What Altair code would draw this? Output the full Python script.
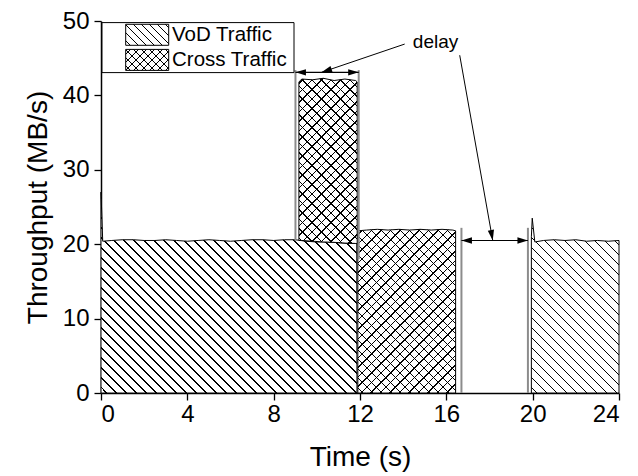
import math
import altair as alt
import pandas as pd

# ---------------- data ----------------
vod1_t = [0.0, 0.08, 0.5, 1.0, 1.5, 2.0, 2.5, 3.0, 3.5, 4.0, 4.5, 5.0, 5.5, 6.0,
          6.5, 7.0, 7.5, 8.0, 8.5, 9.0, 9.5, 10.0, 10.5, 11.0, 11.5, 11.85, 11.86]
vod1_v = [27.0, 20.4, 20.5, 20.6, 20.6, 20.5, 20.5, 20.6, 20.5, 20.4, 20.5, 20.6,
          20.5, 20.4, 20.5, 20.6, 20.6, 20.5, 20.6, 20.6, 20.4, 20.3, 20.3, 20.2,
          20.1, 20.1, 0.0]

vod2_t = [19.94, 19.98, 20.1, 20.5, 21.0, 21.5, 22.0, 22.5, 23.0, 23.5, 24.0]
vod2_v = [21.0, 23.5, 20.3, 20.5, 20.6, 20.5, 20.6, 20.4, 20.5, 20.4, 20.5]

cross1_t = [9.17, 9.3, 9.8, 10.3, 10.8, 11.3, 11.8, 11.87]
cross1_top = [41.8, 42.2, 42.1, 42.3, 42.0, 42.2, 42.0, 41.8]
cross1_base = [20.5, 20.5, 20.4, 20.3, 20.25, 20.15, 20.1, 20.1]

cross2_t = [11.9, 12.3, 12.8, 13.3, 13.8, 14.3, 14.8, 15.3, 15.8, 16.3, 16.43]
cross2_top = [21.8, 21.9, 22.0, 21.9, 22.0, 21.9, 22.0, 21.9, 22.0, 21.9, 21.8]
cross2_base = [0.0] * len(cross2_t)

# annotation: gray guide lines, delay arrows, leader lines
guide_t = [9.01, 11.94, 16.7, 19.78]
guide_top = [43.4, 43.4, 22.2, 22.2]
guide_bottom = [20.5, 18.0, 0.0, 0.0]

delay_from = [9.01, 16.7]
delay_to = [11.94, 19.78]
delay_level = [43.1, 20.5]

leader_t0 = [14.07, 16.62]
leader_v0 = [46.9, 45.4]
leader_t1 = [10.22, 18.15]
leader_v1 = [43.1, 20.5]

delay_label = "delay"
delay_label_t = 15.5
delay_label_v = 47.2

legend_labels = ["VoD Traffic", "Cross Traffic"]

x_ticks = [0, 4, 8, 12, 16, 20, 24]
y_ticks = [0, 10, 20, 30, 40, 50]

# ---------------- layout ----------------
W, H = 518, 372
XMAX, YMAX = 24, 50
SX, SY = W / XMAX, H / YMAX
FONT = "Liberation Sans"
X_TITLE = "Time (s)"
Y_TITLE = "Throughput (MB/s)"


def hatch(w, h, direction, spacing=10.0, thick=1.3, bg="white", fg="black"):
    """Striped linear gradient giving 45-degree hatch lines on a w x h box."""
    k = (w + h) / (w * w + h * h)
    if direction == "back":  # lines like "\\"
        x1, y1, x2, y2 = 0, 1, w * k, 1 - h * k
    else:                    # lines like "/"
        x1, y1, x2, y2 = 0, 0, w * k, h * k
    period = spacing / (w + h)
    width = thick / (w + h)
    stops = [(0.0, bg)]
    i = 0
    while True:
        a = i * period + period / 2
        if a >= 1:
            break
        b = min(a + width, 1.0)
        stops += [(a, bg), (a, fg), (b, fg), (b, bg)]
        i += 1
    stops.append((1.0, bg))
    return alt.LinearGradient(
        gradient="linear",
        stops=[alt.GradientStop(offset=o, color=c) for o, c in stops],
        x1=x1, y1=y1, x2=x2, y2=y2)


xs = alt.Scale(domain=[0, XMAX], nice=False, zero=False)
ys = alt.Scale(domain=[0, YMAX], nice=False, zero=False)

axis_common = dict(
    grid=False, tickSize=7, tickWidth=1.3, tickColor="black",
    domainColor="black", domainWidth=1.5,
    labelFont=FONT, labelFontSize=24, labelColor="black",
    titleFont=FONT, titleFontSize=28, titleColor="black", titleFontWeight="normal",
)
x_axis = alt.Axis(values=x_ticks, labelPadding=2, titlePadding=17, **axis_common)
y_axis = alt.Axis(values=y_ticks, labelPadding=5, titlePadding=10, **axis_common)


def X(field):
    return alt.X(field, scale=xs, axis=x_axis, title=X_TITLE)


def Y(field):
    return alt.Y(field, scale=ys, axis=y_axis, title=Y_TITLE)


df_v1 = pd.DataFrame({"t": vod1_t, "v": vod1_v})
df_v2 = pd.DataFrame({"t": vod2_t, "v": vod2_v})
df_c1 = pd.DataFrame({"t": cross1_t, "top": cross1_top, "base": cross1_base})
df_c2 = pd.DataFrame({"t": cross2_t, "top": cross2_top, "base": cross2_base})


def box(tvals, top, base):
    return ((max(tvals) - min(tvals)) * SX, (max(top) - min(base)) * SY)


layers = []

# VoD areas
for df in [df_v1, df_v2]:
    w, h = box(df["t"], df["v"], [0])
    layers.append(alt.Chart(df).mark_area(
        fill=hatch(w, h, "back"), stroke="black", strokeWidth=1, interpolate="linear"
    ).encode(x=X("t:Q"), y=Y("v:Q")))

# Cross traffic areas (cross-hatched: two stripe layers)
for df in [df_c1, df_c2]:
    w, h = box(df["t"], df["top"], df["base"])
    enc = dict(x=X("t:Q"), y=Y("top:Q"), y2="base:Q")
    layers.append(alt.Chart(df).mark_area(
        fill=hatch(w, h, "fwd", spacing=9.5), strokeWidth=0).encode(**enc))
    layers.append(alt.Chart(df).mark_area(
        fill=hatch(w, h, "back", spacing=9.5, bg="rgba(255,255,255,0)"),
        stroke="black", strokeWidth=1).encode(**enc))

# gray guide lines
df_g = pd.DataFrame({"t": guide_t, "top": guide_top, "bottom": guide_bottom})
layers.append(alt.Chart(df_g).mark_rule(color="#8c8c8c", strokeWidth=2).encode(
    x=X("t:Q"), y=Y("top:Q"), y2="bottom:Q"))

# delay double arrows
df_d = pd.DataFrame({"a": delay_from, "b": delay_to, "v": delay_level})
layers.append(alt.Chart(df_d).mark_rule(color="black", strokeWidth=1.2).encode(
    x=X("a:Q"), x2="b:Q", y=Y("v:Q")))

ARROW = "M 0 0 L 2 -0.6 L 2 0.6 Z"  # tip at origin, pointing left
for tvals, ang in [(delay_from, 0), (delay_to, 180)]:
    layers.append(alt.Chart(pd.DataFrame({"t": tvals, "v": delay_level})).mark_point(
        shape=ARROW, filled=True, color="black", size=110, opacity=1, angle=ang).encode(
        x=X("t:Q"), y=Y("v:Q")))

# leader lines from the "delay" label
df_l = pd.DataFrame({"t0": leader_t0, "v0": leader_v0, "t1": leader_t1, "v1": leader_v1})
layers.append(alt.Chart(df_l).mark_rule(color="black", strokeWidth=1).encode(
    x=X("t0:Q"), x2="t1:Q", y=Y("v0:Q"), y2="v1:Q"))

for t0, v0, t1, v1 in zip(leader_t0, leader_v0, leader_t1, leader_v1):
    dx = (t1 - t0) * SX
    dy = -(v1 - v0) * SY
    ang = (math.degrees(math.atan2(dy, dx)) - 180) % 360
    layers.append(alt.Chart(pd.DataFrame({"t": [t1], "v": [v1]})).mark_point(
        shape=ARROW, filled=True, color="black", size=110, opacity=1, angle=ang).encode(
        x=X("t:Q"), y=Y("v:Q")))

layers.append(alt.Chart(pd.DataFrame({"t": [delay_label_t], "v": [delay_label_v],
                                      "s": [delay_label]})).mark_text(
    font=FONT, fontSize=19, color="black", align="center", baseline="middle").encode(
    x=X("t:Q"), y=Y("v:Q"), text="s:N"))

# legend (drawn in pixel space of the plot area)
one = pd.DataFrame({"k": [0]})
layers.append(alt.Chart(one).mark_rect(fill="white", stroke="black", strokeWidth=1).encode(
    x=alt.value(1), x2=alt.value(193), y=alt.value(1.6), y2=alt.value(51.6)))
sw_w, sw_h = 43, 21
sw_y = [3.3, 28.4]
for lab, yy, kind in zip(legend_labels, sw_y, ["vod", "cross"]):
    pos = dict(x=alt.value(24.7), x2=alt.value(24.7 + sw_w),
               y=alt.value(yy), y2=alt.value(yy + sw_h))
    if kind == "vod":
        layers.append(alt.Chart(one).mark_rect(
            fill=hatch(sw_w, sw_h, "back", spacing=8), stroke="black",
            strokeWidth=1).encode(**pos))
    else:
        layers.append(alt.Chart(one).mark_rect(
            fill=hatch(sw_w, sw_h, "fwd", spacing=8), strokeWidth=0).encode(**pos))
        layers.append(alt.Chart(one).mark_rect(
            fill=hatch(sw_w, sw_h, "back", spacing=8, bg="rgba(255,255,255,0)"),
            stroke="black", strokeWidth=1).encode(**pos))
    layers.append(alt.Chart(pd.DataFrame({"s": [lab]})).mark_text(
        font=FONT, fontSize=20.5, color="black", align="left", baseline="middle").encode(
        x=alt.value(71), y=alt.value(yy + sw_h / 2 + 0.5), text="s:N"))

chart = alt.layer(*layers).properties(
    width=W, height=H,
    autosize=alt.AutoSizeParams(type="none"),
    padding={"left": 101, "top": 21, "right": 19, "bottom": 83},
    background="white",
).configure_view(stroke=None)

chart.save("out.html", embed_options={"renderer": "svg", "actions": False})
